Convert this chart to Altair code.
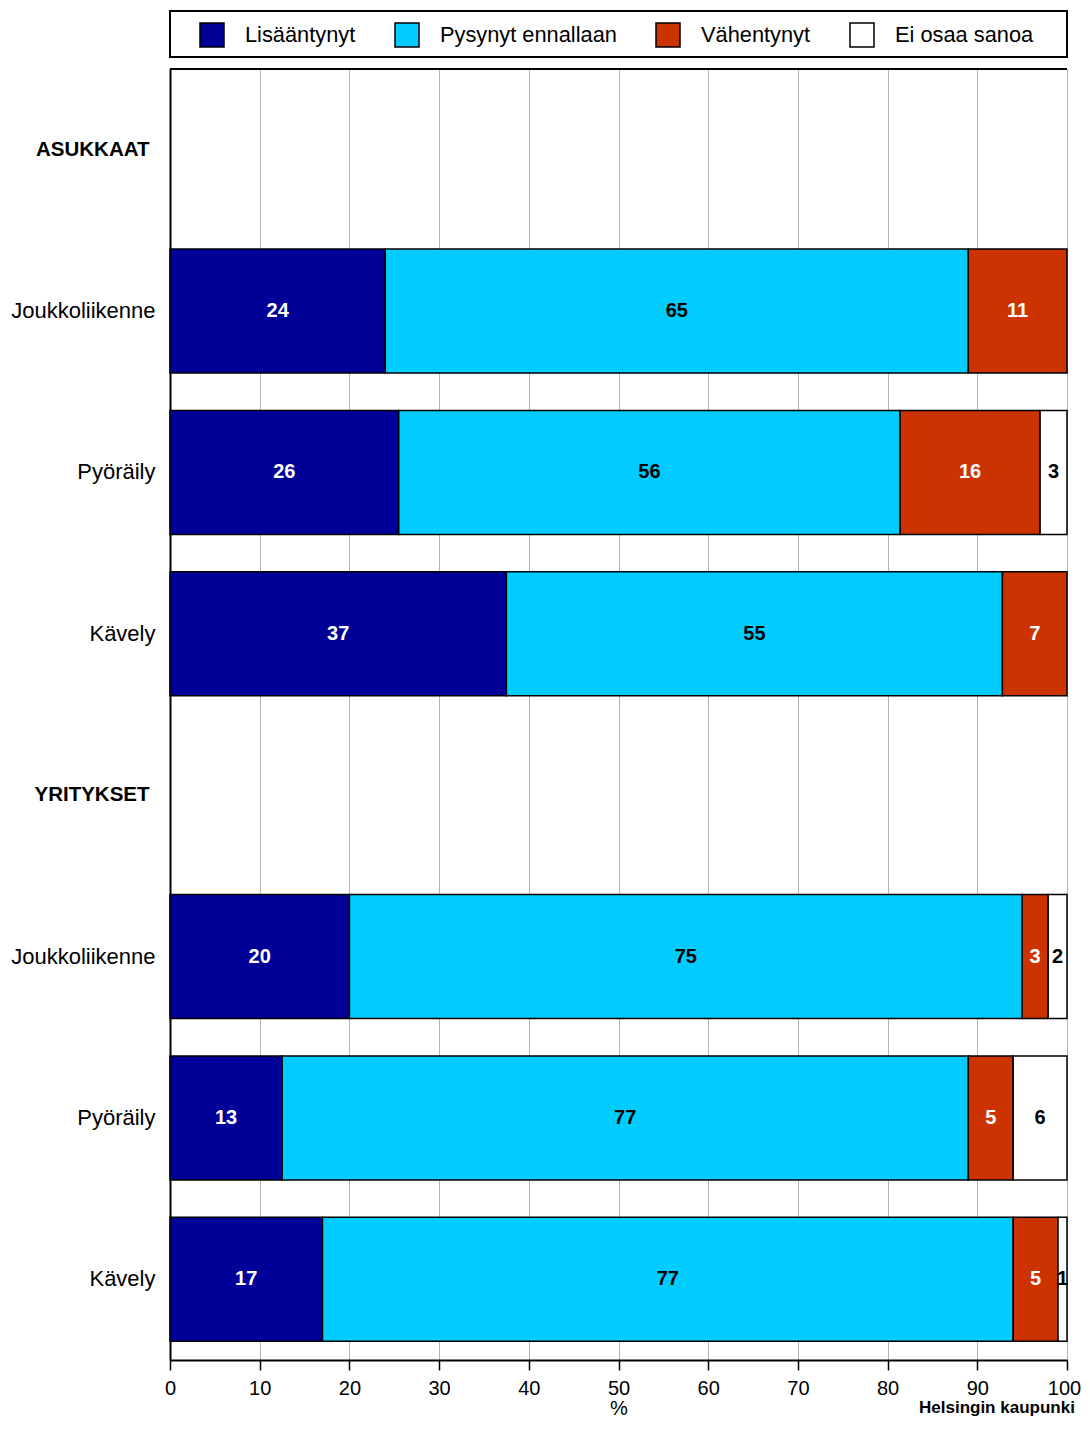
import altair as alt
import pandas as pd

# ---- data ----
groups = ["ASUKKAAT", "YRITYKSET"]
modes = ["Joukkoliikenne", "Pyöräily", "Kävely"]
categories = ["Lisääntynyt", "Pysynyt ennallaan", "Vähentynyt", "Ei osaa sanoa"]
colors = ["#000099", "#00CCFF", "#CC3300", "#FFFFFF"]
label_colors = ["white", "black", "white", "black"]

# bar widths (percent) per group -> category -> mode
asukkaat_values = {
    "Lisääntynyt": [24.0, 25.5, 37.5],
    "Pysynyt ennallaan": [65.0, 55.9, 55.3],
    "Vähentynyt": [11.0, 15.6, 7.2],
    "Ei osaa sanoa": [0.0, 3.0, 0.0],
}
yritykset_values = {
    "Lisääntynyt": [20.0, 12.5, 17.0],
    "Pysynyt ennallaan": [75.0, 76.5, 77.0],
    "Vähentynyt": [2.9, 5.0, 5.0],
    "Ei osaa sanoa": [2.1, 6.0, 1.0],
}
# printed labels
asukkaat_labels = {
    "Lisääntynyt": [24, 26, 37],
    "Pysynyt ennallaan": [65, 56, 55],
    "Vähentynyt": [11, 16, 7],
    "Ei osaa sanoa": [None, 3, None],
}
yritykset_labels = {
    "Lisääntynyt": [20, 13, 17],
    "Pysynyt ennallaan": [75, 77, 77],
    "Vähentynyt": [3, 5, 5],
    "Ei osaa sanoa": [2, 6, 1],
}
x_ticks = [0, 10, 20, 30, 40, 50, 60, 70, 80, 90, 100]
credit_text = "Helsingin kaupunki"

# ---- build table ----
row_names = []
for g in groups:
    row_names.append(g)
    row_names.extend(modes)
row_keys = [str(i) for i in range(len(row_names))]
header_keys = [str(i) for i, n in enumerate(row_names) if n in groups]

records = []
for gi, (vals, labs) in enumerate([(asukkaat_values, asukkaat_labels),
                                    (yritykset_values, yritykset_labels)]):
    for mi, m in enumerate(modes):
        key = str(gi * 4 + 1 + mi)
        start = 0.0
        for ci, c in enumerate(categories):
            w = vals[c][mi]
            if w > 0:
                lab = labs[c][mi]
                records.append({
                    "row": key, "cat": c, "order": ci,
                    "x0": start, "x1": start + w, "mid": start + w / 2,
                    "label": "" if lab is None else str(lab),
                    "tcol": label_colors[ci],
                })
            start += w
df = pd.DataFrame(records)

label_expr = "[" + ",".join("'" + n + "'" for n in row_names) + "][toNumber(datum.value)]"
header_test = " || ".join("datum.value == '" + k + "'" for k in header_keys)

FONT = "Liberation Sans"
W, H = 897, 1291

y_enc = alt.Y(
    "row:N",
    scale=alt.Scale(domain=row_keys, paddingInner=0.231, paddingOuter=0.1155),
    axis=alt.Axis(
        title=None,
        labelExpr=label_expr,
        labelFontWeight={"condition": {"test": header_test, "value": "bold"}, "value": "normal"},
        labelFontSize={"condition": {"test": header_test, "value": 20.5}, "value": 22},
        labelPadding={"condition": {"test": header_test, "value": 21}, "value": 15},
        labelColor="black",
        labelLimit=300,
        ticks=False,
        domainColor="black",
        domainWidth=2,
        grid=False,
        labelFont=FONT,
    ),
)

x_scale = alt.Scale(domain=[0, 100], nice=False, zero=True)

bars = alt.Chart(df).mark_bar(stroke="black", strokeWidth=1.5).encode(
    x=alt.X(
        "x0:Q",
        scale=x_scale,
        axis=alt.Axis(
            values=x_ticks,
            title="%",
            titleFontSize=20,
            titleFontWeight="normal",
            titleColor="black",
            titlePadding=0,
            titleFont=FONT,
            labelFontSize=20,
            labelColor="black",
            labelFont=FONT,
            labelPadding=8,
            labelFlush=False,
            labelOffset={"condition": {"test": "datum.value == 100", "value": -3}, "value": 0},
            tickSize=10,
            tickColor="black",
            tickWidth=1.5,
            domainColor="black",
            domainWidth=2,
            grid=True,
            gridColor="#b4b4b4",
            gridWidth=1,
        ),
    ),
    x2="x1:Q",
    y=y_enc,
    color=alt.Color(
        "cat:N",
        scale=alt.Scale(domain=categories, range=colors),
        legend=alt.Legend(
            orient="none",
            legendX=29,
            legendY=-47,
            direction="horizontal",
            title=None,
            symbolType="square",
            symbolSize=576,
            symbolStrokeColor="black",
            symbolStrokeWidth=1.5,
            symbolOpacity=1,
            labelFontSize=21.8,
            labelFont=FONT,
            labelColor="black",
            labelLimit=400,
            labelOffset=20,
            columnPadding=36,
            padding=0,
        ),
    ),
    order=alt.Order("order:Q"),
)

texts = alt.Chart(df).mark_text(
    fontSize=20, fontWeight="bold", font=FONT, align="center", baseline="middle"
).encode(
    x=alt.X("mid:Q", scale=x_scale),
    y=alt.Y("row:N", scale=alt.Scale(domain=row_keys)),
    text="label:N",
    color=alt.Color("tcol:N", scale=None),
)

frame_df = pd.DataFrame({"a": [0], "b": [100]})
top_line = alt.Chart(frame_df).mark_rule(color="black", strokeWidth=2).encode(
    x=alt.X("a:Q", scale=x_scale), x2="b:Q", y=alt.value(0)
)
legend_box = alt.Chart(frame_df).mark_rect(
    fillOpacity=0, stroke="black", strokeWidth=2
).encode(
    x=alt.X("a:Q", scale=x_scale), x2="b:Q", y=alt.value(-58), y2=alt.value(-12)
)

credit = alt.Chart(pd.DataFrame({"t": [credit_text]})).mark_text(
    fontSize=17, fontWeight="bold", font=FONT, align="left", baseline="top", color="black"
).encode(text="t:N", x=alt.value(749), y=alt.value(1331))

chart = alt.layer(bars, texts, top_line, legend_box, credit).properties(
    width=W,
    height=H,
    autosize=alt.AutoSizeParams(type="none"),
    padding={"left": 162, "top": 61, "right": 15, "bottom": 60},
).configure_view(stroke=None).configure(font=FONT)

chart.save("out.html", embed_options={"renderer": "svg", "actions": False})
